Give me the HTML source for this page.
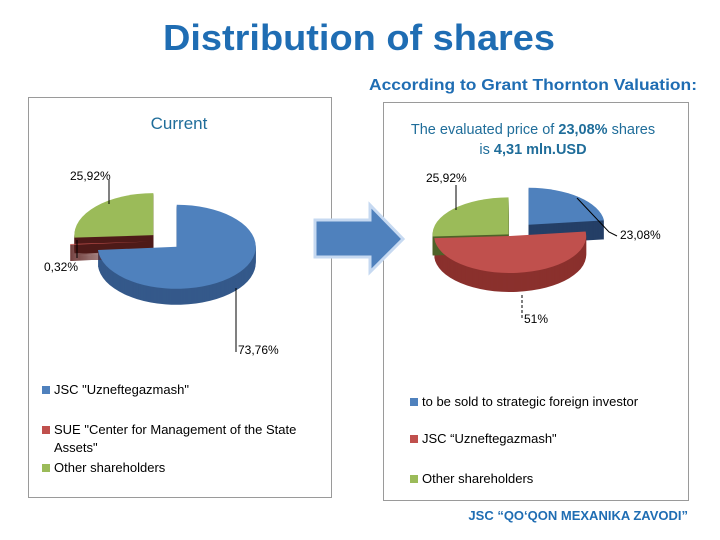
<!DOCTYPE html>
<html><head><meta charset="utf-8">
<style>
html,body{margin:0;padding:0;background:#fff;}
svg{display:block;font-family:"Liberation Sans",sans-serif;}
</style></head>
<body>
<svg id="s" width="720" height="540" viewBox="0 0 720 540">
<text x="359" y="50" text-anchor="middle" font-size="36" font-weight="bold" fill="#1f6db3" textLength="392" lengthAdjust="spacingAndGlyphs">Distribution of shares</text>
<text x="533" y="90" text-anchor="middle" font-size="16" font-weight="bold" fill="#1f6db3" textLength="328" lengthAdjust="spacingAndGlyphs">According to Grant Thornton Valuation:</text>

<rect x="28.5" y="97.5" width="303" height="400" fill="#fff" stroke="#9a9a9a"/>
<rect x="383.5" y="102.5" width="305" height="398" fill="#fff" stroke="#9a9a9a"/>

<text x="179" y="129" text-anchor="middle" font-size="17" fill="#1f6d9a">Current</text>
<text x="533" y="134" text-anchor="middle" font-size="14.5" fill="#1f6d9a">The evaluated price of <tspan font-weight="bold">23,08%</tspan> shares</text>
<text x="533" y="154" text-anchor="middle" font-size="14.5" fill="#1f6d9a">is <tspan font-weight="bold">4,31 mln.USD</tspan></text>

<polygon points="315,220 370,220 370,205 403,239 370,272 370,257 315,257" fill="#4f81bd" stroke="#c6d9f1" stroke-width="3"/>

<g id="pie1"></g>
<g id="pie2"></g>

<g font-size="12" fill="#000">
<line x1="109" y1="180" x2="109" y2="204" stroke="#000"/>
<text id="l1g" x="70" y="180"></text>
<line x1="77" y1="240" x2="77" y2="258" stroke="#000"/>
<text id="l1r" x="44" y="271"></text>
<line x1="236" y1="288" x2="236" y2="352" stroke="#000"/>
<text id="l1b" x="238" y="354"></text>
</g>
<g font-size="12" fill="#000">
<line x1="456" y1="185" x2="456" y2="210" stroke="#000"/>
<text id="l2g" x="426" y="182"></text>
<polyline points="577,198 609,232 617,236" fill="none" stroke="#000"/>
<text id="l2b" x="620" y="239"></text>
<line x1="522" y1="295" x2="522" y2="320" stroke="#000" stroke-dasharray="3,2"/>
<text id="l2r" x="524" y="323"></text>
</g>

<g font-size="13" fill="#000">
<rect x="42" y="386" width="8" height="8" fill="#4f81bd"/><text x="54" y="394">JSC "Uzneftegazmash"</text>
<rect x="42" y="426" width="8" height="8" fill="#c0504d"/><text x="54" y="434">SUE "Center for Management of the State</text>
<text x="54" y="452">Assets"</text>
<rect x="42" y="464" width="8" height="8" fill="#9bbb59"/><text x="54" y="472">Other shareholders</text>
</g>
<g font-size="13" fill="#000">
<rect x="410" y="398" width="8" height="8" fill="#4f81bd"/><text x="422" y="406">to be sold to strategic foreign investor</text>
<rect x="410" y="435" width="8" height="8" fill="#c0504d"/><text x="422" y="443">JSC “Uzneftegazmash"</text>
<rect x="410" y="475" width="8" height="8" fill="#9bbb59"/><text x="422" y="483">Other shareholders</text>
</g>

<text x="688" y="520" text-anchor="end" font-size="13" font-weight="bold" fill="#1f6db3">JSC “QO‘QON MEXANIKA ZAVODI”</text>
</svg>
<script>
const pie1Values = [73.76, 0.32, 25.92];
const pie1Labels = ["73,76%", "0,32%", "25,92%"];
const pie2Values = [23.08, 51, 25.92];
const pie2Labels = ["23,08%", "51%", "25,92%"];
const topColors = ["#4f81bd", "#c0504d", "#9bbb59"];
const sideColors1 = ["#34598a", "#5a1e1c", "#4e1a18"];
const sideColors2 = ["#243f66", "#8a302d", "#4f6228"];
const NS = "http://www.w3.org/2000/svg";
function slicePath(cx, cy, rx, ry, a0, a1) {
  const x0 = cx + rx * Math.sin(a0), y0 = cy - ry * Math.cos(a0);
  const x1 = cx + rx * Math.sin(a1), y1 = cy - ry * Math.cos(a1);
  const large = (a1 - a0) > Math.PI ? 1 : 0;
  return `M${cx},${cy} L${x0},${y0} A${rx},${ry} 0 ${large} 1 ${x1},${y1} Z`;
}
function drawPie(g, values, cx, cy, rx, ry, depth, explode, sides) {
  const total = values.reduce((a, b) => a + b, 0);
  let acc = 0;
  const geo = values.map((v, i) => {
    const a0 = acc / total * 2 * Math.PI; acc += v;
    const a1 = acc / total * 2 * Math.PI;
    const m = (a0 + a1) / 2;
    return {a0, a1, ox: explode[i] * Math.sin(m), oy: -explode[i] * Math.cos(m) * ry / rx};
  });
  geo.forEach((s, i) => {
    for (let d = depth; d > 0; d--) {
      const p = document.createElementNS(NS, "path");
      p.setAttribute("d", slicePath(cx + s.ox, cy + s.oy + d, rx, ry, s.a0, s.a1));
      p.setAttribute("fill", sides[i]);
      
      
      g.appendChild(p);
    }
  });
  geo.forEach((s, i) => {
    const p = document.createElementNS(NS, "path");
    p.setAttribute("d", slicePath(cx + s.ox, cy + s.oy, rx, ry, s.a0, s.a1));
    p.setAttribute("fill", topColors[i]);
    
    
    g.appendChild(p);
  });
}
drawPie(document.getElementById("pie1"), pie1Values, 165, 241, 79, 42, 16, [16, 16, 16], sideColors1);
drawPie(document.getElementById("pie2"), pie2Values, 510, 235, 76, 37, 19, [28, 2, 2], sideColors2);
document.getElementById("l1b").textContent = pie1Labels[0];
document.getElementById("l1r").textContent = pie1Labels[1];
document.getElementById("l1g").textContent = pie1Labels[2];
document.getElementById("l2b").textContent = pie2Labels[0];
document.getElementById("l2r").textContent = pie2Labels[1];
document.getElementById("l2g").textContent = pie2Labels[2];
</script>
</body></html>
